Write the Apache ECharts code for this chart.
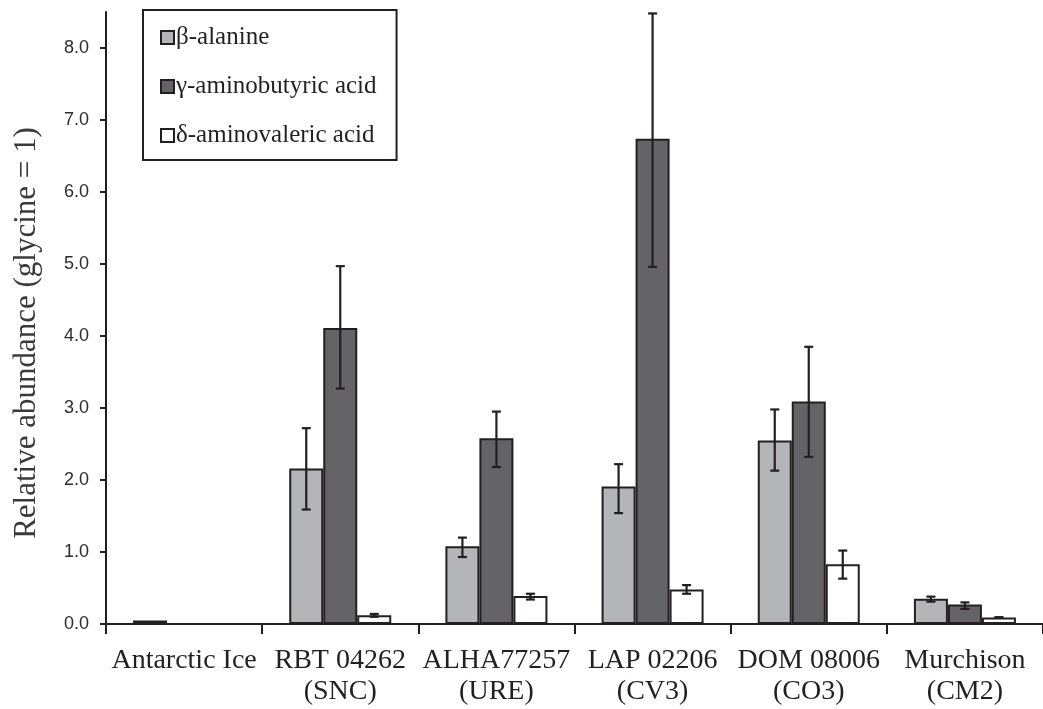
<!DOCTYPE html>
<html>
<head>
<meta charset="utf-8">
<script src="https://cdn.jsdelivr.net/npm/echarts@6/dist/echarts.min.js"></script>
<style>
  html, body { margin: 0; padding: 0; background: #fff; }
  #chart { width: 1043px; height: 709px; }
</style>
</head>
<body>
<div id="chart"></div>
<script>
// categories and ticks
const categories = ['Antarctic Ice', 'RBT 04262\n(SNC)', 'ALHA77257\n(URE)', 'LAP 02206\n(CV3)', 'DOM 08006\n(CO3)', 'Murchison\n(CM2)']
const yTicks = [0, 1, 2, 3, 4, 5, 6, 7, 8]
const seriesNames = ['β-alanine', 'γ-aminobutyric acid', 'δ-aminovaleric acid']

// mean values (glycine = 1), '-' = not shown
const betaAlanine = [0.05, 2.16, 1.08, 1.91, 2.55, 0.35]
const gammaAminobutyric = ['-', 4.11, 2.58, 6.74, 3.09, 0.27]
const deltaAminovaleric = ['-', 0.12, 0.39, 0.48, 0.83, 0.09]

// error bar ends (null = none)
const betaLow = [null, 1.59, 0.93, 1.54, 2.13, 0.31]
const betaHigh = [null, 2.72, 1.20, 2.22, 2.98, 0.38]
const gammaLow = [null, 3.27, 2.18, 4.96, 2.32, 0.21]
const gammaHigh = [null, 4.97, 2.95, 8.48, 3.85, 0.30]
const deltaLow = [null, 0.10, 0.34, 0.42, 0.63, 0.085]
const deltaHigh = [null, 0.14, 0.42, 0.54, 1.02, 0.095]

const INK = '#231f20'
const BAR_W = 34
const colors = ['#b4b5b9', '#646466', '#ffffff']

function barSeries (idx, values) {
  return {
    name: seriesNames[idx],
    type: 'bar',
    barWidth: BAR_W,
    barGap: '0%',
    itemStyle: { color: colors[idx], borderColor: INK, borderWidth: 2 },
    emphasis: { disabled: true },
    data: values
  }
}

function errorSeries (idx, lows, highs) {
  const data = []
  lows.forEach((lo, i) => {
    if (lo !== null) data.push([i, lo, highs[i]])
  })
  return {
    type: 'custom',
    z: 5,
    silent: true,
    renderItem: (params, api) => {
      const x = api.coord([api.value(0), 0])[0] + (idx - 1) * BAR_W
      const yLo = api.coord([api.value(0), api.value(1)])[1]
      const yHi = api.coord([api.value(0), api.value(2)])[1]
      const style = { stroke: INK, lineWidth: 2.2 }
      const cap = 4.5
      return {
        type: 'group',
        children: [
          { type: 'line', shape: { x1: x, y1: yLo, x2: x, y2: yHi }, style },
          { type: 'line', shape: { x1: x - cap, y1: yLo, x2: x + cap, y2: yLo }, style },
          { type: 'line', shape: { x1: x - cap, y1: yHi, x2: x + cap, y2: yHi }, style }
        ]
      }
    },
    data: data
  }
}

const chart = echarts.init(document.getElementById('chart'))
chart.setOption({
  animation: false,
  grid: { left: 106, right: 0, top: 12, bottom: 85 },
  legend: {
    data: seriesNames,
    orient: 'vertical',
    left: 143,
    top: 10,
    padding: [15, 20, 12, 17],
    itemGap: 24,
    icon: 'rect',
    itemWidth: 13,
    itemHeight: 13,
    borderColor: INK,
    borderWidth: 2,
    borderRadius: 0,
    selectedMode: false,
    itemStyle: { borderColor: INK, borderWidth: 2 },
    textStyle: { fontFamily: 'Liberation Serif', fontSize: 25, color: INK, lineHeight: 22, padding: [0, 0, 0, -3] }
  },
  xAxis: {
    type: 'category',
    data: categories,
    axisLine: { lineStyle: { color: INK, width: 2 } },
    axisTick: { show: true, length: 10, lineStyle: { color: INK, width: 2 } },
    axisLabel: {
      interval: 0,
      margin: 21,
      fontFamily: 'Liberation Serif',
      fontSize: 28,
      lineHeight: 31,
      color: INK
    }
  },
  yAxis: {
    type: 'value',
    min: 0,
    max: 8.5,
    interval: 1,
    name: 'Relative abundance (glycine = 1)',
    nameLocation: 'middle',
    nameGap: 64,
    nameTextStyle: { fontFamily: 'Liberation Serif', fontSize: 31, color: '#3a3a3a', padding: [0, 30, 0, 0] },
    splitLine: { show: false },
    axisLine: { show: true, lineStyle: { color: INK, width: 2 } },
    axisTick: { show: true, length: 6, customValues: yTicks, lineStyle: { color: INK, width: 2 } },
    axisLabel: {
      customValues: yTicks,
      margin: 17,
      fontFamily: 'Liberation Sans',
      fontSize: 18,
      color: '#2b2b33',
      formatter: (v) => v.toFixed(1)
    }
  },
  series: [
    barSeries(0, betaAlanine),
    barSeries(1, gammaAminobutyric),
    barSeries(2, deltaAminovaleric),
    errorSeries(0, betaLow, betaHigh),
    errorSeries(1, gammaLow, gammaHigh),
    errorSeries(2, deltaLow, deltaHigh)
  ]
})
</script>
</body>
</html>
